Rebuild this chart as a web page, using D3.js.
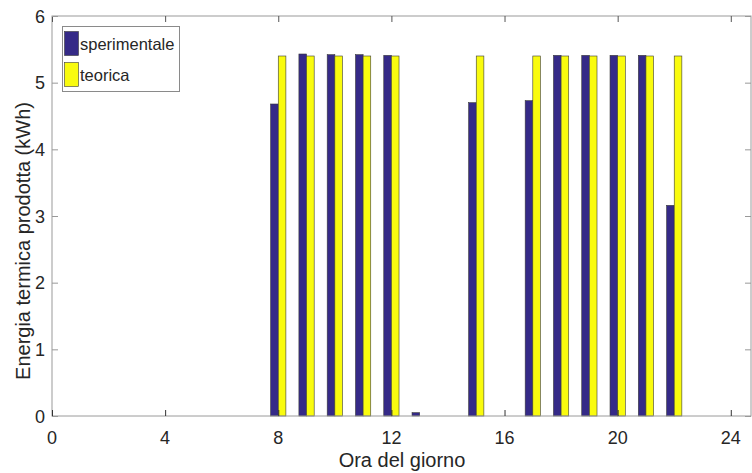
<!DOCTYPE html>
<html>
<head>
<meta charset="utf-8">
<script src="https://cdn.jsdelivr.net/npm/d3@7"></script>
<style>
  body { margin: 0; background: #fff; }
  svg { display: block; font-family: "Liberation Sans", Arial, sans-serif; }
</style>
</head>
<body>
<div id="wrapper"></div>
<script>
// hours of the day and energy values (kWh)
const hours = [0, 1, 2, 3, 4, 5, 6, 7, 8, 9, 10, 11, 12, 13, 14, 15, 16, 17, 18, 19, 20, 21, 22, 23, 24];
const sperimentale = [0, 0, 0, 0, 0, 0, 0, 0, 4.68, 5.43, 5.42, 5.42, 5.41, 0.05, 0, 4.70, 0, 4.73, 5.41, 5.41, 5.41, 5.41, 3.16, 0, 0];
const teorica = [0, 0, 0, 0, 0, 0, 0, 0, 5.40, 5.40, 5.40, 5.40, 5.40, 0, 0, 5.40, 0, 5.40, 5.40, 5.40, 5.40, 5.40, 5.40, 0, 0];
const xTicks = [0, 4, 8, 12, 16, 20, 24];
const yTicks = [0, 1, 2, 3, 4, 5, 6];
const seriesNames = ["sperimentale", "teorica"];
const seriesColors = ["#352a87", "#f9fb0e"];

const dimension = {
    width: 752,
    height: 473,
    margin: { left: 52, right: 0, top: 16, bottom: 57 }
};

const svg = d3.select("#wrapper").append("svg")
    .attr("width", dimension.width)
    .attr("height", dimension.height);

const x_scaler = d3.scaleLinear()
    .domain([0, 24.75])
    .range([dimension.margin.left, dimension.width - dimension.margin.right]);
const y_scaler = d3.scaleLinear()
    .domain([0, 6])
    .range([dimension.height - dimension.margin.bottom, dimension.margin.top]);

const barW = 0.27;
const data = hours.map((h, i) => ({ h: h, vals: [sperimentale[i], teorica[i]] }));

// bars
seriesNames.forEach((name, s) => {
    svg.append("g")
        .selectAll("rect")
        .data(data)
        .join("rect")
        .attr("x", d => x_scaler(s === 0 ? d.h - barW : d.h))
        .attr("width", x_scaler(barW) - x_scaler(0))
        .attr("y", d => y_scaler(d.vals[s]))
        .attr("height", d => y_scaler(0) - y_scaler(d.vals[s]))
        .attr("fill", seriesColors[s])
        .attr("stroke", "#3a3a3a")
        .attr("stroke-width", 0.6);
});

const x0 = dimension.margin.left, x1 = dimension.width - dimension.margin.right;
const y0 = dimension.height - dimension.margin.bottom, y1 = dimension.margin.top;

// box
svg.append("rect")
    .attr("x", x0).attr("y", y1)
    .attr("width", x1 - x0 - 1).attr("height", y0 - y1)
    .attr("fill", "none").attr("stroke", "#9a9a9a").attr("stroke-width", 1);

// axes (ticks inside)
svg.append("g").attr("transform", `translate(0,${y0})`)
    .call(d3.axisTop(x_scaler).tickValues(xTicks).tickSize(6).tickFormat(""))
    .call(g => g.select(".domain").remove())
    .call(g => g.selectAll("line").attr("stroke", "#333"));
svg.append("g").attr("transform", `translate(0,${y1})`)
    .call(d3.axisBottom(x_scaler).tickValues(xTicks).tickSize(6).tickFormat(""))
    .call(g => g.select(".domain").remove())
    .call(g => g.selectAll("line").attr("stroke", "#555"));
svg.append("g").attr("transform", `translate(${x0},0)`)
    .call(d3.axisRight(y_scaler).tickValues(yTicks).tickSize(6).tickFormat(""))
    .call(g => g.select(".domain").remove())
    .call(g => g.selectAll("line").attr("stroke", "#999"));
svg.append("g").attr("transform", `translate(${x1 - 1},0)`)
    .call(d3.axisLeft(y_scaler).tickValues(yTicks).tickSize(6).tickFormat(""))
    .call(g => g.select(".domain").remove())
    .call(g => g.selectAll("line").attr("stroke", "#999"));

// tick labels
svg.append("g").selectAll("text")
    .data(xTicks)
    .join("text")
    .attr("x", d => x_scaler(d))
    .attr("y", y0 + 28)
    .attr("text-anchor", "middle")
    .attr("fill", "#262626")
    .style("font-size", "18px")
    .text(d => d);
svg.append("g").selectAll("text")
    .data(yTicks)
    .join("text")
    .attr("x", x0 - 7)
    .attr("y", d => y_scaler(d) + 6.5)
    .attr("text-anchor", "end")
    .attr("fill", "#262626")
    .style("font-size", "18px")
    .text(d => d);

// axis labels
svg.append("text")
    .attr("x", 402)
    .attr("y", 467)
    .attr("text-anchor", "middle")
    .attr("fill", "#262626")
    .style("font-size", "20px")
    .text("Ora del giorno");
svg.append("text")
    .attr("transform", `translate(30,${(y0 + y1) / 2 + 25}) rotate(-90)`)
    .attr("text-anchor", "middle")
    .attr("fill", "#262626")
    .style("font-size", "20px")
    .text("Energia termica prodotta (kWh)");

// legend
const legend = svg.append("g");
legend.append("rect")
    .attr("x", 62.5).attr("y", 26.5).attr("width", 117).attr("height", 65)
    .attr("fill", "#fff").attr("stroke", "#8a8a8a").attr("stroke-width", 1);
seriesNames.forEach((name, s) => {
    legend.append("rect")
        .attr("x", 64.5).attr("y", 31.5 + s * 31).attr("width", 14).attr("height", 24)
        .attr("fill", seriesColors[s]).attr("stroke", "#3a3a3a").attr("stroke-width", 0.6);
    legend.append("text")
        .attr("x", 80).attr("y", 50 + s * 31)
        .attr("fill", "#262626")
        .style("font-size", "16.5px")
        .text(name);
});
</script>
</body>
</html>
